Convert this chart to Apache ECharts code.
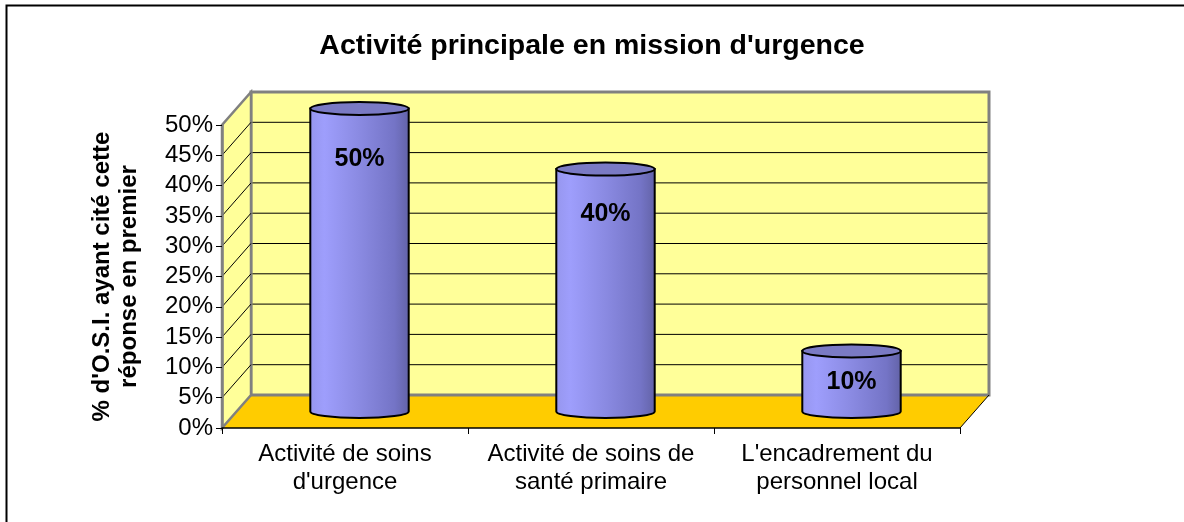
<!DOCTYPE html>
<html>
<head>
<meta charset="utf-8">
<script src="https://cdn.jsdelivr.net/npm/echarts@6/dist/echarts.min.js"></script>
<style>
html, body { margin: 0; padding: 0; background: #fff; }
#main { width: 1184px; height: 522px; }
</style>
</head>
<body>
<div id="main"></div>
<script>
var categories = ["Activité de soins\nd'urgence", "Activité de soins de\nsanté primaire", "L'encadrement du\npersonnel local"];
var values = [50, 40, 10];
var yTicks = [0, 5, 10, 15, 20, 25, 30, 35, 40, 45, 50];

var FONT = 'Liberation Sans, Arial, sans-serif';
// depth of the fake 3d box, in pixels
var DX = 29, DY = -33;

var chart = echarts.init(document.getElementById('main'));

function renderWalls(params, api) {
    var cs = params.coordSys;
    var x0 = cs.x, x1 = cs.x + cs.width;
    var yMax = yTicks[yTicks.length - 1];
    var yb = api.coord([0, 0])[1];
    var yt = api.coord([0, yMax])[1];
    var kids = [];
    // floor
    kids.push({ type: 'polygon', shape: { points: [[x0, yb], [x1, yb], [x1 + DX, yb + DY], [x0 + DX, yb + DY]] },
        style: { fill: '#FFCC00' } });
    // back wall
    kids.push({ type: 'rect', shape: { x: x0 + DX, y: yt + DY, width: x1 - x0, height: yb - yt },
        style: { fill: '#FFFF99', stroke: '#808080', lineWidth: 3 } });
    // left wall
    kids.push({ type: 'polygon', shape: { points: [[x0, yb], [x0, yt], [x0 + DX, yt + DY], [x0 + DX, yb + DY]] },
        style: { fill: '#FFFF99', stroke: '#808080', lineWidth: 2.5 } });
    yTicks.forEach(function (t) {
        if (t === 0 || t === yMax) return;
        var y = api.coord([0, t])[1];
        kids.push({ type: 'line', shape: { x1: x0, y1: y, x2: x0 + DX, y2: y + DY },
            style: { stroke: '#000', lineWidth: 1 } });
        kids.push({ type: 'line', shape: { x1: x0 + DX + 1.5, y1: y + DY, x2: x1 + DX - 1.5, y2: y + DY },
            style: { stroke: '#000', lineWidth: 1 } });
    });
    // floor right edge
    kids.push({ type: 'line', shape: { x1: x1, y1: yb, x2: x1 + DX, y2: yb + DY },
        style: { stroke: '#000', lineWidth: 1 } });
    return { type: 'group', children: kids };
}

var bodyFill = new echarts.graphic.LinearGradient(0, 0, 1, 0, [
    { offset: 0, color: '#9696ee' },
    { offset: 0.15, color: '#9e9efc' },
    { offset: 0.5, color: '#8a8ae2' },
    { offset: 0.85, color: '#7474c6' },
    { offset: 1, color: '#6262a6' }
]);

function renderCylinder(params, api) {
    var idx = api.value(0), v = api.value(1);
    var top = api.coord([idx, v]);
    var base = api.coord([idx, 0]);
    var w = api.size([1, 0])[0] * 0.4;
    var cx = top[0] + DX / 2, yt = top[1] + DY / 2, yb = base[1] + DY / 2;
    var rx = w / 2, ry = 6.5, xl = cx - rx, xr = cx + rx;
    var body = 'M' + xl + ',' + yt + ' L' + xl + ',' + yb +
        ' A' + rx + ',' + ry + ' 0 0 0 ' + xr + ',' + yb +
        ' L' + xr + ',' + yt + ' Z';
    var cap = 'M' + xl + ',' + yt +
        ' A' + rx + ',' + ry + ' 0 1 0 ' + xr + ',' + yt +
        ' A' + rx + ',' + ry + ' 0 1 0 ' + xl + ',' + yt + ' Z';
    return {
        type: 'group',
        children: [
            { type: 'path', shape: { pathData: body }, style: { fill: bodyFill, stroke: '#000', lineWidth: 2 } },
            { type: 'path', shape: { pathData: cap }, style: { fill: '#7a7ac4', stroke: '#000', lineWidth: 2 } },
            { type: 'text', style: {
                text: v + '%', x: cx, y: yt + 0.08 * (yb - yt) + 26,
                align: 'center', verticalAlign: 'middle',
                font: 'bold 25px ' + FONT, fill: '#000' } }
        ]
    };
}

chart.setOption({
    animation: false,
    backgroundColor: '#fff',
    title: {
        text: "Activité principale en mission d'urgence",
        left: 'center',
        top: 27,
        textStyle: { fontFamily: FONT, fontSize: 28.5, fontWeight: 'bold', color: '#000' }
    },
    graphic: [{
        type: 'rect',
        shape: { x: 6.5, y: 5.5, width: 1300, height: 700 },
        style: { fill: 'none', stroke: '#000', lineWidth: 2 },
        silent: true
    }],
    grid: { left: 222, top: 125, width: 738, height: 303 },
    xAxis: {
        type: 'category',
        data: categories,
        axisLine: { lineStyle: { color: '#000', width: 1.5 } },
        axisTick: { show: true, length: 6, lineStyle: { color: '#000' } },
        axisLabel: { interval: 0, margin: 12, fontFamily: FONT, fontSize: 24, lineHeight: 28, color: '#000' },
        splitLine: { show: false }
    },
    yAxis: {
        type: 'value',
        min: 0,
        max: 50,
        interval: 5,
        name: "% d'O.S.I. ayant cité cette\nréponse en premier",
        nameLocation: 'middle',
        nameRotate: 90,
        nameGap: 79,
        nameTextStyle: { fontFamily: FONT, fontSize: 24, fontWeight: 'bold', lineHeight: 27, color: '#000' },
        axisLine: { show: true, lineStyle: { color: '#808080', width: 2.5 } },
        axisTick: { show: true, length: 6, lineStyle: { color: '#000' } },
        axisLabel: { margin: 9, fontFamily: FONT, fontSize: 24, color: '#000', formatter: '{value}%' },
        splitLine: { show: false }
    },
    series: [{
        type: 'custom',
        z: -1,
        silent: true,
        clip: false,
        renderItem: renderWalls,
        data: [[0, 0]]
    }, {
        type: 'custom',
        z: 3,
        clip: false,
        renderItem: renderCylinder,
        data: values.map(function (v, i) { return [i, v]; })
    }]
});
</script>
</body>
</html>
